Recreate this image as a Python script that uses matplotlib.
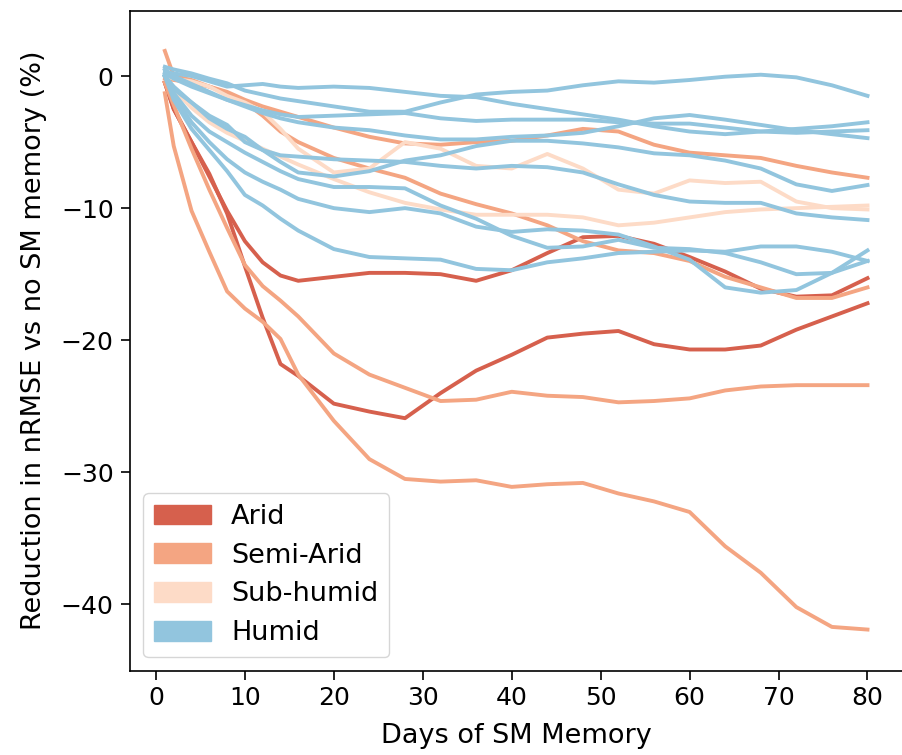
import numpy as np
import matplotlib.pyplot as plt
import matplotlib.patches as mpatches

# days of soil-moisture memory (sampling of the curves)
days = [1, 2, 4, 6, 8, 10, 12, 14, 16, 20, 24, 28, 32, 36, 40, 44, 48, 52, 56, 60, 64, 68, 72, 76, 80]

# Arid
arid_1 = [-0.5, -2.5, -5.0, -7.6, -10.2, -12.5, -14.1, -15.1, -15.5, -15.2, -14.9, -14.9, -15.0, -15.5, -14.7,
          -13.4, -12.2, -12.1, -12.7, -13.7, -14.8, -16.1, -16.7, -16.6, -15.3]
arid_2 = [-0.5, -2.5, -5.0, -7.4, -10.4, -14.4, -18.3, -21.8, -22.7, -24.8, -25.4, -25.9, -24.0, -22.3, -21.1,
          -19.8, -19.5, -19.3, -20.3, -20.7, -20.7, -20.4, -19.2, -18.2, -17.2]

# Semi-Arid
semi_1 = [-1.3, -5.3, -10.2, -13.3, -16.3, -17.6, -18.6, -19.9, -22.6, -26.1, -29.0, -30.5, -30.7, -30.6, -31.1,
          -30.9, -30.8, -31.6, -32.2, -33.0, -35.6, -37.6, -40.2, -41.7, -41.9]
semi_2 = [-0.5, -2.2, -5.5, -8.6, -11.5, -14.3, -15.9, -17.0, -18.2, -21.0, -22.6, -23.6, -24.6, -24.5, -23.9,
          -24.2, -24.3, -24.7, -24.6, -24.4, -23.8, -23.5, -23.4, -23.4, -23.4]
semi_3 = [1.9, 0.0, -0.3, -0.8, -1.2, -1.8, -2.3, -2.7, -3.1, -3.9, -4.6, -5.1, -5.2, -5.0, -4.9,
          -4.5, -4.0, -4.2, -5.2, -5.8, -6.0, -6.2, -6.8, -7.3, -7.7]
semi_4 = [-0.2, -0.3, -0.5, -0.8, -1.3, -2.0, -3.0, -4.2, -5.0, -6.2, -7.0, -7.7, -8.9, -9.7, -10.4,
          -11.3, -12.5, -13.2, -13.4, -14.0, -15.2, -16.0, -16.8, -16.8, -16.0]

# Sub-humid
sub_1 = [0.0, -0.2, -0.4, -0.8, -1.5, -2.0, -2.7, -4.0, -5.5, -7.3, -7.0, -5.0, -5.5, -6.8, -7.0,
         -5.9, -7.0, -8.6, -8.9, -7.9, -8.1, -8.0, -9.5, -10.0, -10.1]
sub_2 = [0.0, -1.0, -2.4, -3.5, -4.3, -4.9, -5.5, -6.1, -6.7, -7.8, -8.8, -9.6, -10.1, -10.5, -10.5,
         -10.5, -10.7, -11.3, -11.1, -10.7, -10.3, -10.1, -10.0, -9.9, -9.8]

# Humid
hum_1 = [0.7, 0.5, 0.2, -0.2, -0.55, -1.1, -1.4, -1.7, -1.9, -2.3, -2.7, -2.7, -2.0, -1.4, -1.2,
         -1.1, -0.7, -0.4, -0.5, -0.3, -0.05, 0.1, -0.1, -0.7, -1.5]
hum_2 = [0.3, 0.2, 0.0, -0.4, -0.8, -0.7, -0.6, -0.8, -0.9, -0.8, -0.9, -1.2, -1.5, -1.6, -2.1,
         -2.5, -2.9, -3.3, -3.8, -4.2, -4.4, -4.2, -4.3, -4.2, -4.1]
hum_3 = [0.2, -0.2, -0.8, -1.3, -1.8, -2.2, -2.6, -2.9, -3.1, -3.0, -2.9, -2.8, -3.2, -3.4, -3.3,
         -3.3, -3.3, -3.5, -3.6, -3.6, -3.9, -4.2, -4.0, -3.8, -3.5]
hum_4 = [0.5, 0.0, -0.6, -1.2, -1.8, -2.3, -2.8, -3.2, -3.5, -3.9, -4.1, -4.5, -4.8, -4.8, -4.6,
         -4.5, -4.3, -3.8, -3.2, -2.95, -3.3, -3.7, -4.1, -4.4, -4.7]
hum_5 = [0.0, -0.8, -2.0, -3.2, -4.0, -4.6, -5.6, -6.5, -7.3, -7.6, -7.2, -6.4, -6.0, -5.3, -4.9,
         -4.9, -5.1, -5.4, -5.85, -6.0, -6.4, -7.0, -8.2, -8.7, -8.25]
hum_6 = [0.0, -1.0, -2.0, -3.0, -3.7, -5.0, -5.6, -6.0, -6.1, -6.3, -6.4, -6.5, -6.8, -7.0, -6.8,
         -6.9, -7.3, -8.2, -9.0, -9.5, -9.6, -9.6, -10.4, -10.7, -10.9]
hum_7 = [0.0, -1.3, -3.0, -4.2, -5.0, -5.8, -6.5, -7.2, -7.8, -8.4, -8.4, -8.5, -9.8, -10.8, -12.1,
         -13.0, -12.9, -12.4, -13.0, -13.1, -13.4, -14.1, -15.0, -14.9, -14.0]
hum_8 = [0.0, -1.5, -3.5, -5.0, -6.3, -7.3, -8.0, -8.6, -9.3, -10.0, -10.3, -10.0, -10.4, -11.4, -11.8,
         -11.6, -11.7, -12.0, -12.9, -13.9, -16.0, -16.4, -16.2, -14.9, -13.2]
hum_9 = [0.0, -1.8, -4.0, -5.6, -7.2, -9.0, -9.8, -10.8, -11.7, -13.1, -13.7, -13.8, -13.9, -14.6, -14.7,
         -14.1, -13.8, -13.4, -13.3, -13.2, -13.3, -12.9, -12.9, -13.3, -14.0]

classes = ['Arid', 'Semi-Arid', 'Sub-humid', 'Humid']
colors = ['#d6604d', '#f4a582', '#fddbc7', '#92c5de']
groups = [[arid_1, arid_2],
          [semi_1, semi_2, semi_3, semi_4],
          [sub_1, sub_2],
          [hum_1, hum_2, hum_3, hum_4, hum_5, hum_6, hum_7, hum_8, hum_9]]

plt.rcParams['font.family'] = 'DejaVu Sans'
fig = plt.figure(figsize=(9.02, 7.55), dpi=100)
ax = fig.add_axes([0.1438, 0.1119, 0.8569, 0.874])

for col, series in zip(colors, groups):
    for s in series:
        ax.plot(days, s, color=col, lw=2.8)

ax.set_xlim(-2.95, 83.95)
ax.set_ylim(-45.0, 4.95)
ax.set_xticks(range(0, 81, 10))
ax.set_yticks([0, -10, -20, -30, -40])
ax.tick_params(labelsize=18, length=6.5, width=1.2, pad=5)
for sp in ax.spines.values():
    sp.set_linewidth(1.2)
ax.set_xlabel('Days of SM Memory', fontsize=19.5, labelpad=9)
ax.set_ylabel('Reduction in nRMSE vs no SM memory (%)', fontsize=19.5, labelpad=10)

handles = [mpatches.Patch(color=c, label=l) for c, l in zip(colors, classes)]
ax.legend(handles=handles, loc='lower left', fontsize=19.5, handlelength=2.1, handleheight=0.75,
          handletextpad=0.75, labelspacing=0.47, borderaxespad=0.5)

fig.savefig('out.png', dpi=100)
